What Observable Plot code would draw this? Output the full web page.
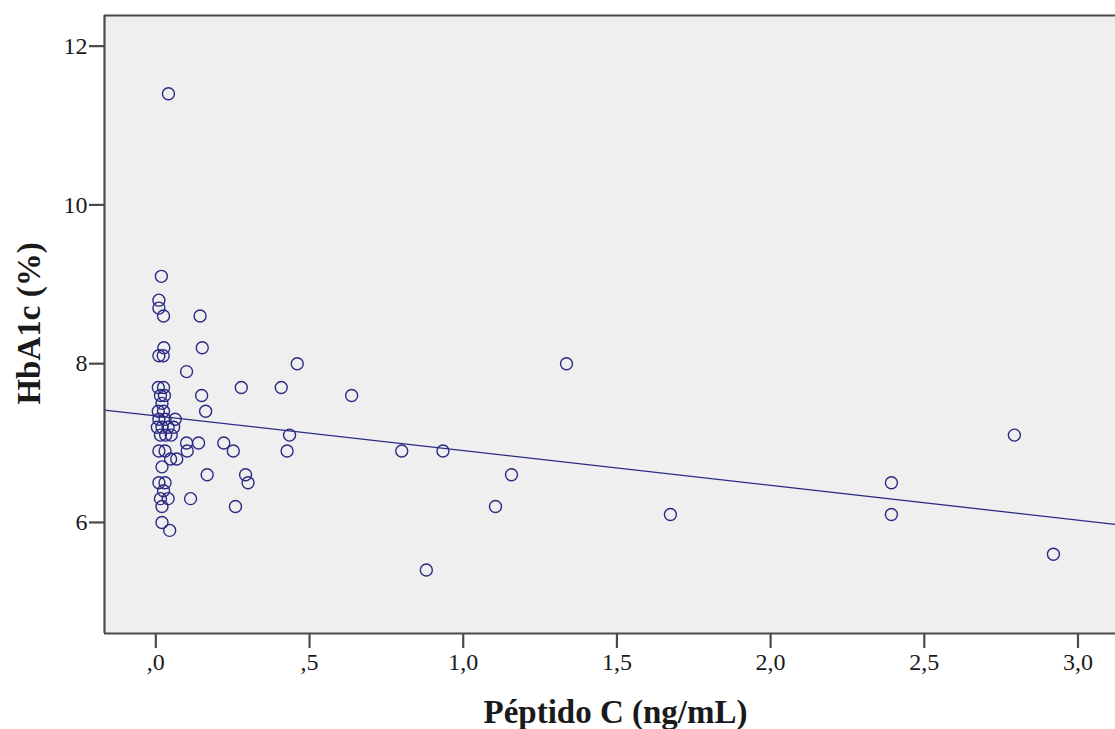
<!DOCTYPE html>
<html>
<head>
<meta charset="utf-8">
<script src="https://cdn.jsdelivr.net/npm/d3@7"></script>
<script src="https://cdn.jsdelivr.net/npm/@observablehq/plot@0.6"></script>
<style>
  html, body { margin: 0; padding: 0; background: #ffffff; }
  #chart svg { display: block; }
</style>
</head>
<body>
<div id="chart"></div>
<script>
// Péptido C (ng/mL)
const peptidoC = [
  0.041, 0.018, 0.010, 0.010, 0.025, 0.144, 0.026, 0.010, 0.024, 0.151,
  0.460, 1.336, 0.100, 0.278, 0.408, 0.637, 0.149, 0.162, 0.063, 0.435,
  0.100, 0.139, 0.221, 0.102, 0.252, 0.427, 0.800, 0.934, 0.167, 0.292,
  0.300, 0.113, 0.259, 1.105, 1.157, 0.880, 1.674, 2.393, 2.393, 2.793,
  2.920, 0.048, 0.068,
  0.008, 0.025, 0.015, 0.028, 0.020, 0.008, 0.025, 0.010, 0.030, 0.005,
  0.020, 0.040, 0.058, 0.015, 0.032, 0.050, 0.010, 0.030, 0.020, 0.010,
  0.030, 0.025, 0.015, 0.040, 0.020, 0.020, 0.045
];
// HbA1c (%)
const hba1c = [
  11.4, 9.1, 8.8, 8.7, 8.6, 8.6, 8.2, 8.1, 8.1, 8.2,
  8.0, 8.0, 7.9, 7.7, 7.7, 7.6, 7.6, 7.4, 7.3, 7.1,
  7.0, 7.0, 7.0, 6.9, 6.9, 6.9, 6.9, 6.9, 6.6, 6.6,
  6.5, 6.3, 6.2, 6.2, 6.6, 5.4, 6.1, 6.5, 6.1, 7.1,
  5.6, 6.8, 6.8,
  7.7, 7.7, 7.6, 7.6, 7.5, 7.4, 7.4, 7.3, 7.3, 7.2,
  7.2, 7.2, 7.2, 7.1, 7.1, 7.1, 6.9, 6.9, 6.7, 6.5,
  6.5, 6.4, 6.3, 6.3, 6.2, 6.0, 5.9
];
const xTicks = [0, 0.5, 1.0, 1.5, 2.0, 2.5, 3.0];
const yTicks = [6, 8, 10, 12];
const xDomain = [-0.167, 3.122];
const yDomain = [4.601, 12.386];
const xTitle = "Péptido C (ng/mL)";
const yTitle = "HbA1c (%)";

const data = peptidoC.map((x, i) => ({x, y: hba1c[i]}));

// least-squares fit line (as drawn by the original software)
const mx = d3.mean(peptidoC), my = d3.mean(hba1c);
const slope = d3.sum(data, d => (d.x - mx) * (d.y - my)) / d3.sum(data, d => (d.x - mx) ** 2);
const intercept = my - slope * mx;
const fit = xDomain.map(x => ({x, y: intercept + slope * x}));

const fmtX = v => {
  let s = d3.format(".1f")(v).replace(".", ",");
  if (s.startsWith("0,")) s = s.slice(1);
  return s;
};

const ink = "#1a1a1a";
const border = "#4a4a4a";
const navy = "#2b2b84";

const chart = Plot.plot({
  width: 1115,
  height: 729,
  marginTop: 15,
  marginLeft: 104,
  marginRight: 0,
  marginBottom: 96,
  style: {background: "#ffffff", fontFamily: "'Liberation Serif', 'DejaVu Serif', serif", color: ink},
  x: {domain: xDomain},
  y: {domain: yDomain},
  marks: [
    Plot.frame({fill: "#efefef", stroke: null}),
    Plot.line(fit, {x: "x", y: "y", stroke: navy, strokeWidth: 1.3}),
    Plot.dot(data, {x: "x", y: "y", r: 6, stroke: navy, strokeWidth: 1.4, fill: "none"}),
    Plot.ruleX([xDomain[0]], {stroke: border, strokeWidth: 2.2}),
    Plot.ruleY([yDomain[0], yDomain[1]], {stroke: border, strokeWidth: 2.2}),
    Plot.axisX({ticks: xTicks, tickFormat: fmtX, tickSize: 15, tickPadding: 4, fontSize: 24, label: null, stroke: border, strokeWidth: 2.2, color: ink}),
    Plot.axisY({ticks: yTicks, tickFormat: d3.format("d"), tickSize: 15, tickPadding: 2, fontSize: 24, label: null, stroke: border, strokeWidth: 2.2, color: ink}),
    Plot.text([xTitle], {frameAnchor: "bottom", textAnchor: "middle", dx: 5.5, dy: 79, fontSize: 33, fontWeight: "bold", fill: ink, lineAnchor: "middle"}),
    Plot.text([yTitle], {frameAnchor: "left", textAnchor: "middle", dx: -75, dy: -1, rotate: -90, fontSize: 33, fontWeight: "bold", fill: ink, lineAnchor: "middle"})
  ]
});
document.getElementById("chart").appendChild(chart);
</script>
</body>
</html>
